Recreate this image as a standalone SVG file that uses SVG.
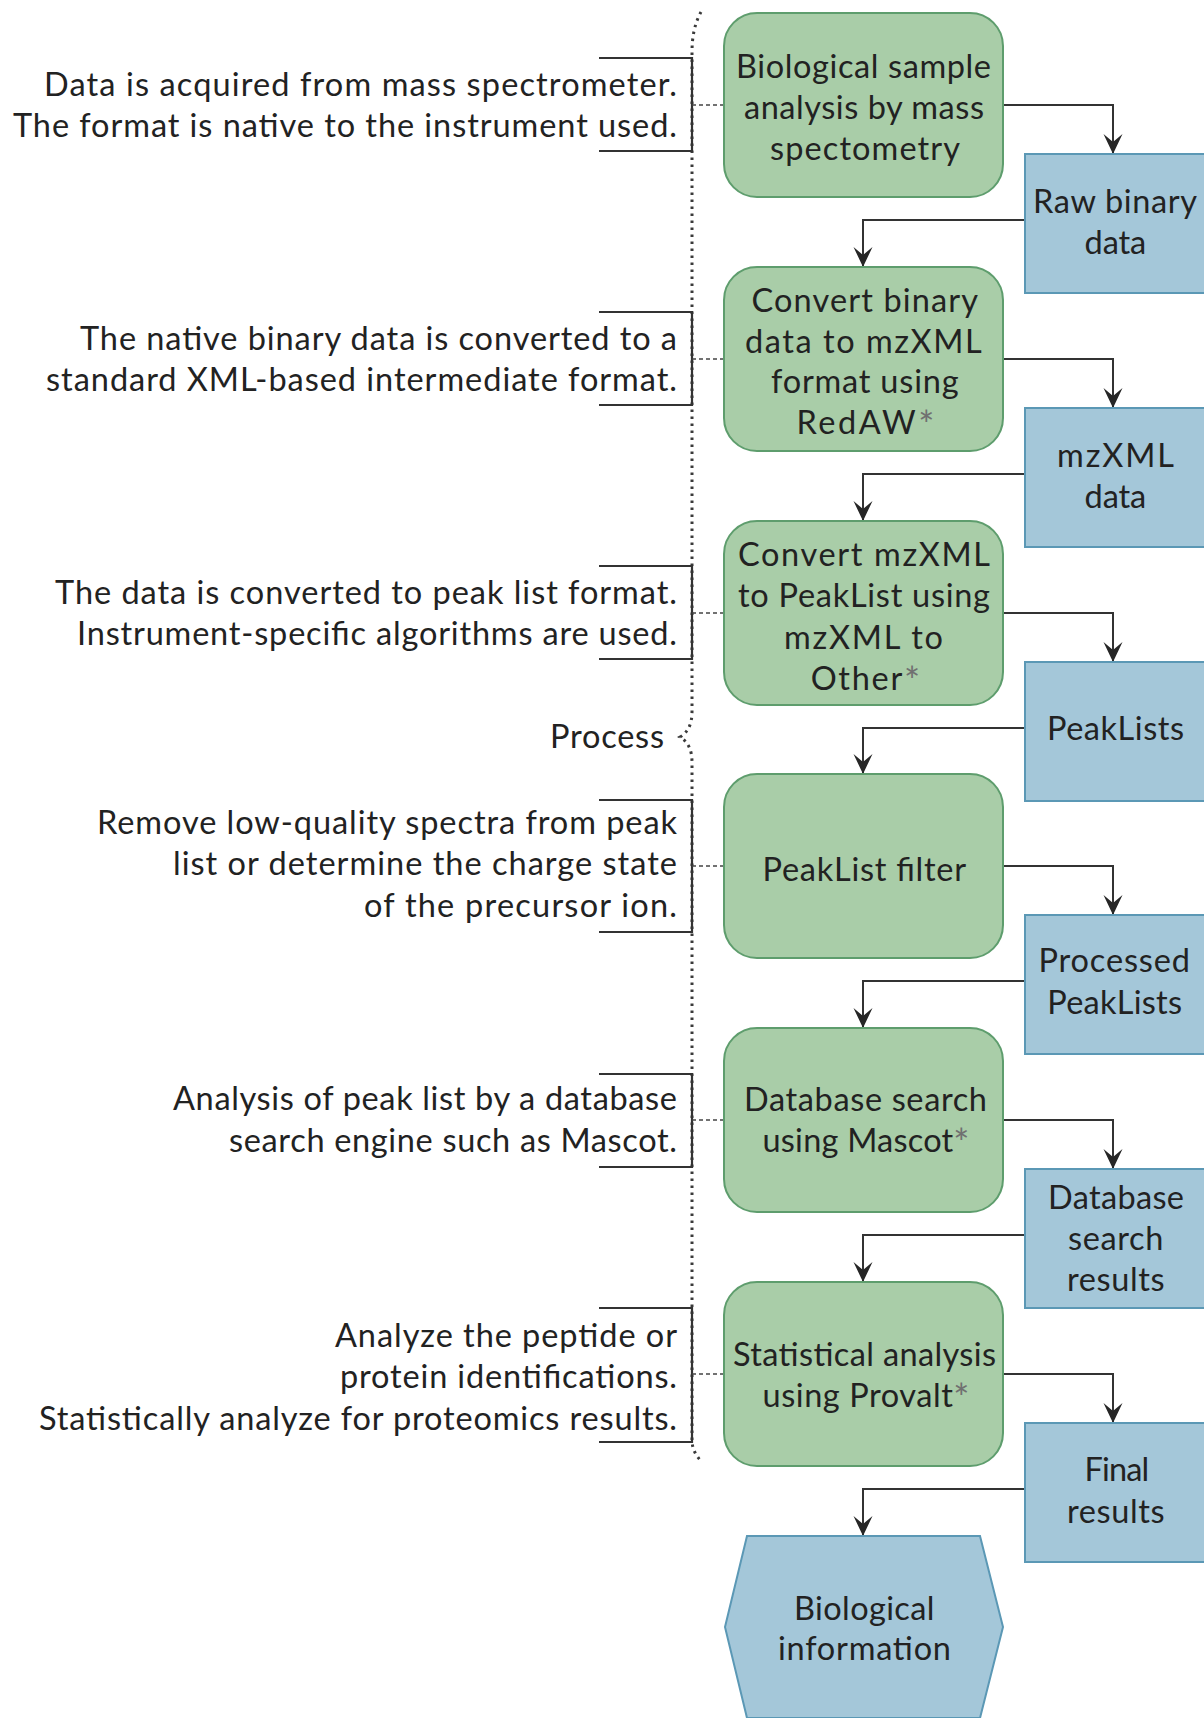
<svg xmlns="http://www.w3.org/2000/svg" width="1204" height="1718" viewBox="0 0 1204 1718">
<style>
text { font-family: Lato, "Liberation Sans", sans-serif; font-size: 32.5px; fill: #222; }
.ast { fill: #707070; font-size: 38px; }
.green { fill: #a9cda8; stroke: #5e9d6d; stroke-width: 2; }
.blue { fill: #a4c7d9; stroke: #5b98b5; stroke-width: 2; }
.conn { fill: none; stroke: #333; stroke-width: 2; marker-end: url(#arr); }
.brk { fill: none; stroke: #333; stroke-width: 2.2; }
.dash { fill: none; stroke: #444; stroke-width: 1.5; stroke-dasharray: 4 3; }
.dots { fill: none; stroke: #3a3a3a; stroke-width: 3; stroke-dasharray: 2.5 4.5; }
</style>
<defs>
<marker id="arr" markerUnits="userSpaceOnUse" markerWidth="24" markerHeight="24" viewBox="-22 -12 24 24" refX="0" refY="0" orient="auto">
<path d="M0,0 L-20,-9.5 L-12,0 L-20,9.5 Z" fill="#262626"/>
</marker>
</defs>
<rect width="1204" height="1718" fill="#fff"/>

<!-- brace / process -->
<g id="process">
<path class="dots" d="M701,12 Q692,28 692,52 L692,712 Q692,730 680,737 Q692,744 692,762 L692,1440 Q692,1452 702,1462"/>
<text x="550" y="748" textLength="114">Process</text>
</g>

<!-- annotations -->
<g id="ann1">
<path class="brk" d="M599,58 H692 V151 H599"/>
<line class="dash" x1="692" y1="105" x2="723" y2="105"/>
<text x="44" y="96" textLength="633">Data is acquired from mass spectrometer.</text>
<text x="13" y="137" textLength="664">The format is native to the instrument used.</text>
</g>
<g id="ann2">
<path class="brk" d="M599,312 H692 V405 H599"/>
<line class="dash" x1="692" y1="359" x2="723" y2="359"/>
<text x="80" y="350" textLength="597">The native binary data is converted to a</text>
<text x="46" y="391" textLength="631">standard XML-based intermediate format.</text>
</g>
<g id="ann3">
<path class="brk" d="M599,566 H692 V659 H599"/>
<line class="dash" x1="692" y1="613" x2="723" y2="613"/>
<text x="55" y="604" textLength="622">The data is converted to peak list format.</text>
<text x="77" y="645" textLength="600">Instrument-specific algorithms are used.</text>
</g>
<g id="ann4">
<path class="brk" d="M599,800 H692 V932 H599"/>
<line class="dash" x1="692" y1="866" x2="723" y2="866"/>
<text x="97" y="834" textLength="580">Remove low-quality spectra from peak</text>
<text x="173" y="875" textLength="504">list or determine the charge state</text>
<text x="364" y="917" textLength="313">of the precursor ion.</text>
</g>
<g id="ann5">
<path class="brk" d="M599,1074 H692 V1167 H599"/>
<line class="dash" x1="692" y1="1120" x2="723" y2="1120"/>
<text x="173" y="1110" textLength="504">Analysis of peak list by a database</text>
<text x="229" y="1152" textLength="448">search engine such as Mascot.</text>
</g>
<g id="ann6">
<path class="brk" d="M599,1308 H692 V1442 H599"/>
<line class="dash" x1="692" y1="1374" x2="723" y2="1374"/>
<text x="335" y="1347" textLength="342">Analyze the peptide or</text>
<text x="340" y="1388" textLength="337">protein identifications.</text>
<text x="39" y="1430" textLength="638">Statistically analyze for proteomics results.</text>
</g>

<!-- connectors -->
<g id="connectors">
<path class="conn" d="M1003,105 H1113 V154"/>
<path class="conn" d="M1025,220 H863 V267"/>
<path class="conn" d="M1003,359 H1113 V408"/>
<path class="conn" d="M1025,474 H863 V521"/>
<path class="conn" d="M1003,613 H1113 V662"/>
<path class="conn" d="M1025,728 H863 V774"/>
<path class="conn" d="M1003,866 H1113 V915"/>
<path class="conn" d="M1025,981 H863 V1028"/>
<path class="conn" d="M1003,1120 H1113 V1169"/>
<path class="conn" d="M1025,1235 H863 V1282"/>
<path class="conn" d="M1003,1374 H1113 V1423"/>
<path class="conn" d="M1025,1489 H863 V1536"/>
</g>

<!-- process nodes -->
<g id="step1">
<rect class="green" x="724" y="13" width="279" height="184" rx="33"/>
<text x="736" y="77.5" textLength="255">Biological sample</text>
<text x="744" y="118.5" textLength="240">analysis by mass</text>
<text x="770" y="159.5" textLength="190">spectometry</text>
</g>
<g id="step2">
<rect class="green" x="724" y="267" width="279" height="184" rx="33"/>
<text x="751.5" y="312" textLength="226.5">Convert binary</text>
<text x="745" y="352.5" textLength="236.6">data to mzXML</text>
<text x="771" y="393" textLength="187.6">format using</text>
<text x="796.4" y="433.5" textLength="138">RedAW<tspan class="ast" dy="5">*</tspan></text>
</g>
<g id="step3">
<rect class="green" x="724" y="521" width="279" height="184" rx="33"/>
<text x="738" y="566" textLength="252">Convert mzXML</text>
<text x="738" y="607" textLength="252">to PeakList using</text>
<text x="784" y="649" textLength="159">mzXML to</text>
<text x="810.7" y="690" textLength="109.5">Other<tspan class="ast" dy="5">*</tspan></text>
</g>
<g id="step4">
<rect class="green" x="724" y="774" width="279" height="184" rx="33"/>
<text x="762.5" y="880.5" textLength="203.5">PeakList filter</text>
</g>
<g id="step5">
<rect class="green" x="724" y="1028" width="279" height="184" rx="33"/>
<text x="744" y="1111" textLength="243">Database search</text>
<text x="762.5" y="1152" textLength="207">using Mascot<tspan class="ast" dy="5">*</tspan></text>
</g>
<g id="step6">
<rect class="green" x="724" y="1282" width="279" height="184" rx="33"/>
<text x="733" y="1365.5" textLength="263">Statistical analysis</text>
<text x="762.5" y="1406.5" textLength="207">using Provalt<tspan class="ast" dy="5">*</tspan></text>
</g>

<!-- data nodes -->
<g id="data1">
<rect class="blue" x="1025" y="154" width="185" height="139"/>
<text x="1033" y="213" textLength="164">Raw binary</text>
<text x="1084.6" y="254" textLength="61.5">data</text>
</g>
<g id="data2">
<rect class="blue" x="1025" y="408" width="185" height="139"/>
<text x="1057" y="467" textLength="117">mzXML</text>
<text x="1084.6" y="508" textLength="61.5">data</text>
</g>
<g id="data3">
<rect class="blue" x="1025" y="662" width="185" height="139"/>
<text x="1047" y="740" textLength="137">PeakLists</text>
</g>
<g id="data4">
<rect class="blue" x="1025" y="915" width="185" height="139"/>
<text x="1038.5" y="972" textLength="151.5">Processed</text>
<text x="1047.3" y="1014" textLength="134.7">PeakLists</text>
</g>
<g id="data5">
<rect class="blue" x="1025" y="1169" width="185" height="139"/>
<text x="1048" y="1209" textLength="136">Database</text>
<text x="1068" y="1250" textLength="95.3">search</text>
<text x="1067" y="1291" textLength="97.5">results</text>
</g>
<g id="data6">
<rect class="blue" x="1025" y="1423" width="185" height="139"/>
<text x="1084.6" y="1481" textLength="64.6">Final</text>
<text x="1067" y="1523" textLength="97.5">results</text>
</g>
<g id="result">
<path class="blue" d="M747,1536 H980 L1003,1627 L980,1718 H747 L725,1627 Z"/>
<text x="794" y="1620" textLength="140.5">Biological</text>
<text x="778" y="1660" textLength="173">information</text>
</g>
</svg>
